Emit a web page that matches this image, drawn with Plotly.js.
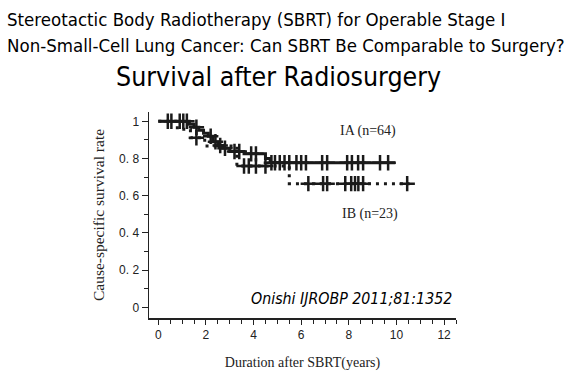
<!DOCTYPE html>
<html><head><meta charset="utf-8">
<script src="https://cdn.plot.ly/plotly-3.0.1.min.js"></script>
<style>html,body{margin:0;padding:0;background:#fff;}#chart{width:576px;height:379px;}</style>
</head><body><div id="chart"></div>
<script>
// Kaplan-Meier step data (years, cause-specific survival)
const iaTimes = [0, 1.3, 1.5, 1.7, 1.9, 2.1, 2.3, 2.5, 2.7, 3.0, 3.6, 4.5, 4.7, 9.95];
const iaSurv  = [1, 0.984, 0.968, 0.952, 0.936, 0.92, 0.89, 0.87, 0.855, 0.838, 0.825, 0.80, 0.777, 0.777];
const iaCensor = [0.4, 0.55, 0.9, 1.05, 1.2, 1.6, 2.2, 2.4, 2.6, 2.8, 3.2, 3.4, 3.9, 4.1, 4.75, 4.9, 5.1, 5.3, 5.5, 5.8, 6.0, 6.2, 6.88, 7.09, 7.93, 8.13, 8.39, 8.6, 9.31, 9.65];

const ibTimes = [0, 0.8, 1.35, 1.95, 3.3, 5.5, 10.55];
const ibSurv  = [1, 0.957, 0.912, 0.867, 0.76, 0.665, 0.665];
const ibCensor = [1.6, 3.6, 3.8, 4.1, 4.5, 6.3, 6.92, 7.09, 7.85, 8.1, 8.26, 8.4, 8.6, 10.45];

const yTickVals = [0, 0.2, 0.4, 0.6, 0.8, 1];
const yTickText = ['0', '0. 2', '0. 4', '0. 6', '0. 8', '1'];
const xTickVals = [0, 2, 4, 6, 8, 10, 12];

function stepAt(times, surv, t) {
  let s = surv[0];
  for (let i = 0; i < times.length; i++) { if (times[i] <= t) s = surv[i]; }
  return s;
}

const ink = '#1a1a1a';
const traces = [
  {x: iaTimes, y: iaSurv, mode: 'lines', line: {shape: 'hv', color: ink, width: 3}, hoverinfo: 'skip'},
  {x: ibTimes, y: ibSurv, mode: 'lines', line: {shape: 'hv', color: ink, width: 3, dash: '3px,5px'}, hoverinfo: 'skip'},
  {x: iaCensor, y: iaCensor.map(t => stepAt(iaTimes, iaSurv, t)), mode: 'markers',
   marker: {symbol: 'cross-thin', size: 11, line: {color: ink, width: 2.5}}, hoverinfo: 'skip'},
  {x: ibCensor, y: ibCensor.map(t => stepAt(ibTimes, ibSurv, t)), mode: 'markers',
   marker: {symbol: 'cross-thin', size: 11, line: {color: ink, width: 2.5}}, hoverinfo: 'skip'}
];

const headerFont = {family: 'DejaVu Sans Condensed', size: 18.5, color: '#000'};
const layout = {
  width: 576, height: 379,
  margin: {l: 149, r: 120, t: 112, b: 61},
  paper_bgcolor: '#fff', plot_bgcolor: '#fff',
  showlegend: false,
  xaxis: {
    range: [-0.39, 12.5], showgrid: false, zeroline: false,
    showline: true, linecolor: '#222', linewidth: 1.5,
    ticks: 'outside', ticklen: 5, tickwidth: 1, tickcolor: '#222',
    tickvals: xTickVals,
    minor: {dtick: 0.5, ticks: 'outside', ticklen: 4, tickcolor: '#222', showgrid: false},
    tickfont: {family: 'Liberation Sans', size: 12, color: '#222'},
    title: {text: 'Duration after SBRT(years)', font: {family: 'Liberation Serif', size: 14, color: '#222'}, standoff: 16}
  },
  yaxis: {
    range: [-0.057, 1.05], showgrid: false, zeroline: false,
    showline: true, linecolor: '#222', linewidth: 1.5,
    ticks: 'outside', ticklen: 6, tickwidth: 1, tickcolor: '#222',
    tickvals: yTickVals, ticktext: yTickText,
    minor: {dtick: 0.1, ticks: 'outside', ticklen: 4, tickcolor: '#222', showgrid: false},
    tickfont: {family: 'Liberation Sans', size: 12, color: '#222'},
    title: {text: 'Cause-specific survival rate', font: {family: 'Liberation Serif', size: 15.5, color: '#222'}, standoff: 10}
  },
  annotations: [
    {text: 'Stereotactic Body Radiotherapy (SBRT) for Operable Stage I', xref: 'paper', yref: 'paper',
     x: -0.469, y: 1.447, xanchor: 'left', yanchor: 'middle', showarrow: false, font: headerFont},
    {text: 'Non-Small-Cell Lung Cancer: Can SBRT Be Comparable to Surgery?', xref: 'paper', yref: 'paper',
     x: -0.469, y: 1.325, xanchor: 'left', yanchor: 'middle', showarrow: false, font: headerFont},
    {text: 'Survival after Radiosurgery', xref: 'paper', yref: 'paper', x: 0.422, y: 1.17, xanchor: 'center', yanchor: 'middle',
     showarrow: false, font: {family: 'DejaVu Sans Condensed', size: 26.5, color: '#000'}},
    {text: 'IA (n=64)', xref: 'x', yref: 'y', x: 8.8, y: 0.95, showarrow: false,
     font: {family: 'Liberation Serif', size: 14, color: '#222'}},
    {text: 'IB (n=23)', xref: 'x', yref: 'y', x: 8.9, y: 0.5, showarrow: false,
     font: {family: 'Liberation Serif', size: 14, color: '#222'}},
    {text: '<i>Onishi IJROBP 2011;81:1352</i>', xref: 'x', yref: 'y', x: 12.4, y: 0.05, xanchor: 'right', showarrow: false,
     font: {family: 'DejaVu Sans Condensed', size: 15.8, color: '#000'}}
  ]
};

Plotly.newPlot('chart', traces, layout, {displayModeBar: false, staticPlot: true});
</script>
</body></html>
